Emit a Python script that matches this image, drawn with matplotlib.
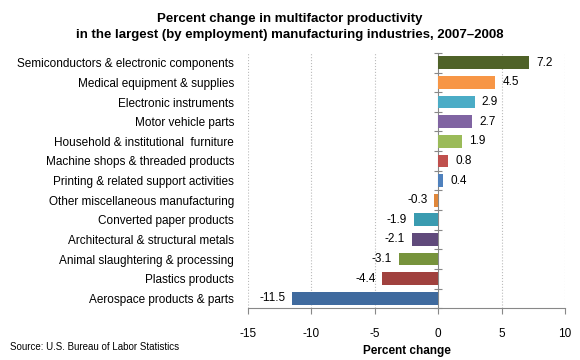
import matplotlib.pyplot as plt
import numpy as np

plt.rcParams['font.family'] = ['Liberation Sans', 'DejaVu Sans']

industries = [
    'Semiconductors & electronic components',
    'Medical equipment & supplies',
    'Electronic instruments',
    'Motor vehicle parts',
    'Household & institutional  furniture',
    'Machine shops & threaded products',
    'Printing & related support activities',
    'Other miscellaneous manufacturing',
    'Converted paper products',
    'Architectural & structural metals',
    'Animal slaughtering & processing',
    'Plastics products',
    'Aerospace products & parts',
]
pct_change = [7.2, 4.5, 2.9, 2.7, 1.9, 0.8, 0.4, -0.3, -1.9, -2.1, -3.1, -4.4, -11.5]
bar_colors = ['#4F6228', '#F79646', '#4BACC6', '#8064A2', '#9BBB59', '#C0504D', '#4F81BD',
              '#E0873A', '#3A9BB0', '#604A7B', '#77933C', '#A0413E', '#3F6A9E']
xticks = [-15, -10, -5, 0, 5, 10]

fig = plt.figure(figsize=(5.8, 3.6), dpi=100)
ax = fig.add_axes([0.4276, 0.144, 0.5465, 0.709])

y = np.arange(len(industries))
ax.barh(y, pct_change, height=0.65, color=bar_colors, zorder=3)

for yi, v in zip(y, pct_change):
    if v >= 0:
        ax.text(v + 0.55, yi, f'{v:.1f}', va='center', ha='left', fontsize=8.5)
    else:
        ax.text(v - 0.55, yi, f'{v:.1f}', va='center', ha='right', fontsize=8.5)

ax.set_xlim(-15, 10)
ax.set_ylim(len(industries) - 0.5, -0.5)
ax.set_xticks(xticks)
ax.set_xticklabels([str(t) for t in xticks], fontsize=8.5)
ax.tick_params(axis='x', direction='out', length=4, color='#888888', pad=10)
ax.set_yticks(y)
ax.set_yticklabels(industries, fontsize=8.5)
ax.tick_params(axis='y', length=0, pad=10)

for t in xticks:
    if t != 0:
        ax.axvline(t, color='#BBBBBB', linestyle=':', linewidth=0.8, zorder=0)

for s in ['left', 'right', 'top']:
    ax.spines[s].set_visible(False)
ax.spines['bottom'].set_color('#888888')

# vertical axis at zero with tick marks between categories
zero_pos = (0 - (-15)) / 25
sec = ax.secondary_yaxis(zero_pos)
sec.set_yticks(np.arange(len(industries) + 1) - 0.5)
sec.set_yticklabels([])
sec.tick_params(axis='y', which='both', direction='inout', length=6, color='#888888')
for s in sec.spines.values():
    s.set_color('#888888')

ax.set_xlabel('Percent change', fontsize=8.5, fontweight='bold', labelpad=4)

fig.text(0.5, 0.965, 'Percent change in multifactor productivity\nin the largest (by employment) manufacturing industries, 2007\u20132008',
         ha='center', va='top', fontsize=9.5, fontweight='bold', linespacing=1.5)
fig.text(0.017, 0.035, 'Source: U.S. Bureau of Labor Statistics', fontsize=7, ha='left', va='center')

fig.savefig('out.png', dpi=100)
